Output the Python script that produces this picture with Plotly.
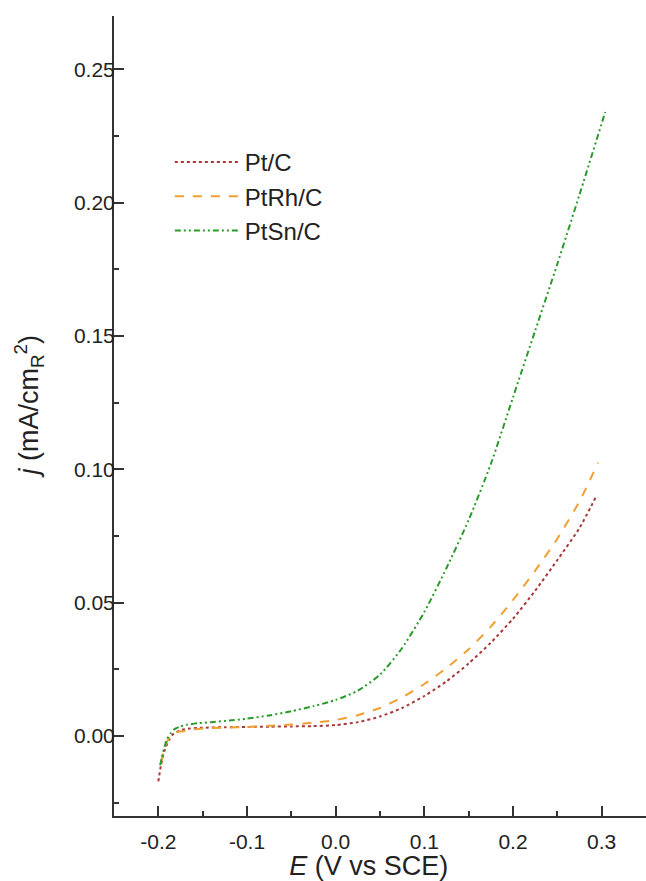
import plotly.graph_objects as go

# ---- data ----
pt_x = [-0.200, -0.197, -0.193, -0.188, -0.183, -0.175, -0.165, -0.150, -0.125, -0.100,
        -0.075, -0.050, -0.025, 0.000, 0.025, 0.050, 0.075, 0.100, 0.125, 0.150,
        0.175, 0.200, 0.225, 0.250, 0.275, 0.294]
pt_y = [-0.0170, -0.0110, -0.0055, -0.0015, 0.0008, 0.0022, 0.0028, 0.0031, 0.0033, 0.0034,
        0.0035, 0.0036, 0.0037, 0.0041, 0.0052, 0.0073, 0.0105, 0.0150, 0.0205, 0.0272,
        0.0350, 0.0440, 0.0545, 0.0660, 0.0780, 0.0900]

ptrh_x = [-0.197, -0.194, -0.190, -0.185, -0.180, -0.172, -0.160, -0.140, -0.120, -0.100,
          -0.075, -0.050, -0.025, 0.000, 0.025, 0.050, 0.075, 0.100, 0.125, 0.150,
          0.175, 0.200, 0.225, 0.250, 0.275, 0.296]
ptrh_y = [-0.0100, -0.0060, -0.0020, 0.0005, 0.0015, 0.0018, 0.0025, 0.0030, 0.0032, 0.0034,
          0.0038, 0.0043, 0.0050, 0.0060, 0.0078, 0.0105, 0.0145, 0.0195, 0.0255, 0.0325,
          0.0410, 0.0510, 0.0620, 0.0740, 0.0880, 0.1025]

ptsn_x = [-0.198, -0.196, -0.193, -0.190, -0.186, -0.182, -0.176, -0.168, -0.155, -0.140,
          -0.120, -0.100, -0.075, -0.050, -0.025, 0.000, 0.025, 0.050, 0.075, 0.100,
          0.125, 0.150, 0.175, 0.200, 0.225, 0.250, 0.275, 0.304]
ptsn_y = [-0.0110, -0.0080, -0.0040, -0.0010, 0.0010, 0.0025, 0.0035, 0.0042, 0.0048, 0.0052,
          0.0058, 0.0065, 0.0077, 0.0093, 0.0112, 0.0135, 0.0170, 0.0230, 0.0330, 0.0465,
          0.0630, 0.0810, 0.1020, 0.1270, 0.1520, 0.1770, 0.2030, 0.2340]

x_tickvals = [-0.2, -0.1, 0.0, 0.1, 0.2, 0.3]
x_ticktext = ["-0.2", "-0.1", "0.0", "0.1", "0.2", "0.3"]
y_tickvals = [0.0, 0.05, 0.10, 0.15, 0.20, 0.25]
y_ticktext = ["0.00", "0.05", "0.10", "0.15", "0.20", "0.25"]

names = ["Pt/C", "PtRh/C", "PtSn/C"]
colors = ["#a83838", "#f0a030", "#2a9a2a"]
dashes = ["dot", "dash", "6px,3px,2px,3px,2px,3px"]

FONT = "Liberation Sans, Arial, sans-serif"
fig = go.Figure()
for xs, ys, nm, c, d in zip([pt_x, ptrh_x, ptsn_x], [pt_y, ptrh_y, ptsn_y], names, colors, dashes):
    fig.add_trace(go.Scatter(x=xs, y=ys, name=nm, mode="lines",
                             line=dict(color=c, width=2, dash=d, shape="spline", smoothing=0.6)))

axis_common = dict(showline=True, linewidth=2, linecolor="#333333", showgrid=False, zeroline=False,
                   ticks="inside", ticklen=10, tickwidth=1.5, tickcolor="#333333",
                   tickfont=dict(family=FONT, size=21, color="#222222"), automargin=False)

fig.update_layout(
    width=646, height=881,
    margin=dict(l=114, r=0, t=16, b=65),
    paper_bgcolor="white", plot_bgcolor="white",
    font=dict(family=FONT, color="#222222"),
    xaxis=dict(range=[-0.25, 0.35], tickvals=x_tickvals, ticktext=x_ticktext, ticklabelstandoff=6,
               minor=dict(dtick=0.05, tick0=0, ticks="inside", ticklen=5, tickwidth=1.5, tickcolor="#333333"),
               title=dict(text="<i>E</i> (V vs SCE)&nbsp;&nbsp;&nbsp;", font=dict(family=FONT, size=27), standoff=0),
               **axis_common),
    yaxis=dict(range=[-0.03, 0.27], tickvals=y_tickvals, ticktext=y_ticktext, ticklabelstandoff=-7,
               minor=dict(dtick=0.025, tick0=0, ticks="inside", ticklen=5, tickwidth=1.5, tickcolor="#333333"),
               title=dict(text="&nbsp;&nbsp;&nbsp;<i>j</i> (mA/cm<sub>R</sub><sup>2</sup>)", font=dict(family=FONT, size=27), standoff=27),
               **axis_common),
    showlegend=True,
    legend=dict(x=0.105, y=0.845, xanchor="left", yanchor="top", bgcolor="rgba(0,0,0,0)",
                font=dict(family=FONT, size=24, color="#222222"), itemwidth=65, tracegroupgap=0),
)

fig.write_html("out.html", config={"displayModeBar": False},
               post_script="document.body.style.margin='0px';")
